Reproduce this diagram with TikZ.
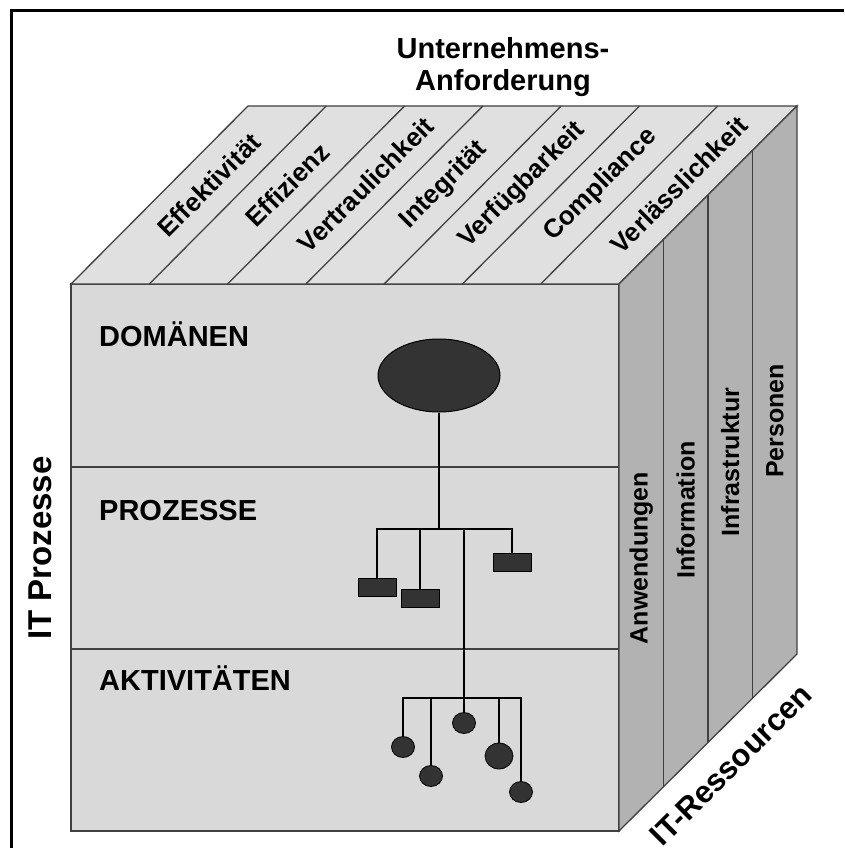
\documentclass[tikz,border=0pt]{standalone}
\usepackage{fontspec}
\setmainfont{Liberation Sans}
\usetikzlibrary{shapes.geometric}
\definecolor{frontc}{HTML}{D9D9D9}
\definecolor{topc}{HTML}{E0E0E0}
\definecolor{sidec}{HTML}{B2B2B2}
\definecolor{edgec}{HTML}{404040}
\definecolor{darkc}{HTML}{333333}
\begin{document}
\begin{tikzpicture}[x=1pt,y=-1pt,
 edge/.style={draw=edgec,line width=1.3pt},
 toplbl/.style={font=\bfseries\fontsize{26}{30}\selectfont,rotate=45,inner sep=0pt},
 sidelbl/.style={font=\bfseries\fontsize{25}{30}\selectfont,rotate=90,inner sep=0pt},
 layerlbl/.style={font=\bfseries\fontsize{29}{34}\selectfont,anchor=base west,inner sep=0pt},
 titlelbl/.style={font=\bfseries\fontsize{29}{34}\selectfont,anchor=base,inner sep=0pt},
 branch/.style={draw=black,line width=2pt},
 box/.style={draw=black,fill=darkc,line width=0.8pt,minimum width=38pt,minimum height=18pt,inner sep=0pt},
 ball/.style={ellipse,draw=black,fill=darkc,line width=0.8pt,minimum width=23pt,minimum height=21pt,inner sep=0pt},
]
\useasboundingbox (0,0) rectangle (844,848);
\fill[white] (0,0) rectangle (844,848);
\draw[line width=3pt] (11,848) -- (11,11) -- (844,11);
% faces
\filldraw[fill=frontc,edge] (71,284) rectangle (619,831);
\filldraw[fill=topc,edge] (71,284) -- (248,106) -- (797,106) -- (619,284) -- cycle;
\filldraw[fill=sidec,edge] (619,284) -- (797,106) -- (797,654) -- (619,831) -- cycle;
\foreach \k in {1,...,6} \draw[edge] ({71+78.286*\k},284) -- ({248+78.286*\k},106);
\foreach \j in {1,2,3} \draw[edge] ({619+44.5*\j},{284-44.5*\j}) -- ({619+44.5*\j},{831-44.5*\j});
\draw[edge] (71,467) -- (619,467);
\draw[edge] (71,649) -- (619,649);
% titles
\node[titlelbl] (t1) at (503,59) {Unternehmens-};
\node[titlelbl] (t2) at (503,91) {Anforderung};
\node[font=\bfseries\fontsize{33}{38}\selectfont,rotate=90,inner sep=0pt] (itp) at (40,548) {IT Prozesse};
\node[font=\bfseries\fontsize{31}{36}\selectfont,rotate=45,inner sep=0pt] (itr) at (731,765) {IT-Ressourcen};
% top labels
\node[toplbl] (r1) at (209,185) {Effektivität};
\node[toplbl] (r2) at (287.4,185) {Effizienz};
\node[toplbl] (r3) at (365.7,185) {Vertraulichkeit};
\node[toplbl] (r4) at (444,185) {Integrität};
\node[toplbl] (r5) at (522.3,185) {Verfügbarkeit};
\node[toplbl] (r6) at (600.6,185) {Compliance};
\node[toplbl] (r7) at (679,185) {Verlässlichkeit};
% side labels
\node[sidelbl] (s1) at (641.3,558) {Anwendungen};
\node[sidelbl] (s2) at (685.8,510) {Information};
\node[sidelbl] (s3) at (730.3,462) {Infrastruktur};
\node[sidelbl] (s4) at (774.8,421) {Personen};
% layer labels
\node[layerlbl] (l1) at (99,346) {DOMÄNEN};
\node[layerlbl] (l2) at (99,520) {PROZESSE};
\node[layerlbl] (l3) at (99,690) {AKTIVITÄTEN};
% tree
\coordinate (pj) at (439,529);
\coordinate (aj) at (464,698);
\node[box] (p1) at (377,587) {};
\node[box] (p2) at (420,598) {};
\node[box] (p3) at (512,562) {};
\node[ball] (a1) at (403,747) {};
\node[ball] (a2) at (431,776) {};
\node[ball] (a3) at (464,723) {};
\node[ball,minimum width=28pt,minimum height=26pt] (a4) at (499,756) {};
\node[ball] (a5) at (521,792) {};
\draw[branch] (p1.north) -- (p1.north |- pj) -- (p3.north |- pj) -- (p3.north);
\draw[branch] (p2.north) -- (p2.north |- pj);
\draw[branch] (aj |- pj) -- (aj);
\draw[branch] (a1.north) -- (a1.north |- aj) -- (a5.north |- aj) -- (a5.north);
\draw[branch] (a2.north) -- (a2.north |- aj);
\draw[branch] (a3.north) -- (a3.north |- aj);
\draw[branch] (a4.north) -- (a4.north |- aj);
\node[ellipse,draw=black,fill=darkc,line width=1pt,minimum width=122pt,minimum height=73pt,inner sep=0pt] (dom) at (439,375.5) {};
\draw[branch] (dom.south) -- (pj);
\end{tikzpicture}
\end{document}
